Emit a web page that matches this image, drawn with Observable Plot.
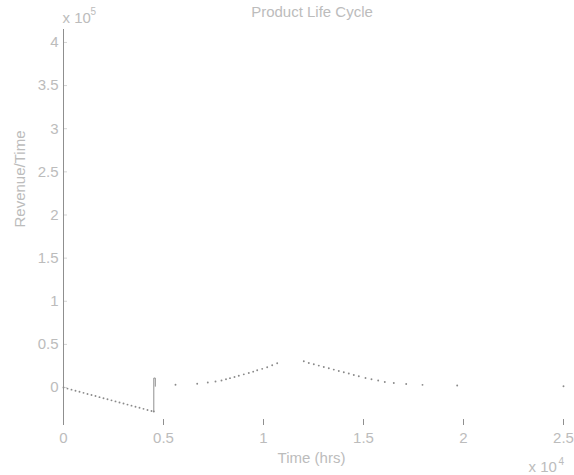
<!DOCTYPE html>
<html>
<head>
<meta charset="utf-8">
<script src="https://cdn.jsdelivr.net/npm/d3@7"></script>
<script src="https://cdn.jsdelivr.net/npm/@observablehq/plot@0.6"></script>
<style>
  html, body { margin: 0; padding: 0; background: #ffffff; }
  #chart svg { display: block; }
</style>
</head>
<body>
<div id="chart"></div>
<script>
// Introduction phase: revenue rate falls while the product is developed
const declineTime = [0, 200, 400, 600, 800, 1000, 1200, 1400, 1600, 1800, 2000, 2200,
  2400, 2600, 2800, 3000, 3200, 3400, 3600, 3800, 4000, 4200, 4400, 4515];
const declineRevenue = [0, -1240, -2470, -3710, -4940, -6180, -7410, -8650, -9880, -11120,
  -12360, -13590, -14830, -16060, -17300, -18530, -19770, -21000, -22240, -23480, -24710,
  -25950, -27180, -27800];

// Launch jump
const jumpTime = [4515, 4515, 4590, 4590];
const jumpRevenue = [-27800, 11000, 11000, 1500];

// Growth phase
const growthTime = [5600, 6685, 7215, 7600, 7900, 8125, 8325, 8550, 8765, 9015, 9265,
  9485, 9685, 9935, 10185, 10435, 10685];
const growthRevenue = [3240, 4400, 5790, 6940, 8100, 9600, 10880, 12260, 13650, 15270,
  16780, 18400, 20000, 21640, 23490, 25900, 28200];

// Maturity and decline phase
const maturityTime = [12015, 12265, 12515, 12765, 13015, 13265, 13515, 13765, 14015, 14265,
  14515, 14765, 15100, 15400, 15735, 16065, 16515, 17135, 17950, 19685, 25000];
const maturityRevenue = [30400, 28500, 27000, 25450, 23830, 22330, 20820, 19200, 17700,
  16200, 14580, 13070, 11100, 9600, 8100, 6480, 5320, 4170, 3120, 2310, 1500];

// Axes
const xTicks = [0, 5000, 10000, 15000, 20000, 25000];
const yTicks = [0, 50000, 100000, 150000, 200000, 250000, 300000, 350000, 400000];
const xDomain = [0, 25000];
const yDomain = [-44000, 415000];

const titleText = "Product Life Cycle";
const xLabel = "Time (hrs)";
const yLabel = "Revenue/Time";

const toPoints = (ts, vs) => ts.map((t, i) => ({t, v: vs[i]}));
const dots = [
  ...toPoints(declineTime, declineRevenue),
  ...toPoints(growthTime, growthRevenue),
  ...toPoints(maturityTime, maturityRevenue)
];
const jump = toPoints(jumpTime, jumpRevenue);

const textColor = "#bcbcbc";
const axisColor = "#8f8f8f";
const font = "'Liberation Sans', Arial, sans-serif";
const label = {fill: textColor, fontSize: 15, lineAnchor: "middle"};
const sup = {fill: textColor, fontSize: 10, lineAnchor: "middle", textAnchor: "start"};

const chart = Plot.plot({
  width: 574,
  height: 475,
  marginLeft: 63,
  marginRight: 11,
  marginTop: 29,
  marginBottom: 50,
  style: {background: "#ffffff", fontFamily: font, fontSize: "15px", color: textColor},
  x: {domain: xDomain},
  y: {domain: yDomain},
  marks: [
    // tick labels
    Plot.axisX({ticks: xTicks, tickFormat: d => String(d / 1e4), tickSize: 0, tickPadding: 7,
      fill: textColor, label: null, fontSize: 15}),
    Plot.axisY({ticks: yTicks, tickFormat: d => String(d / 1e5), tickSize: 0, tickPadding: 5,
      fill: textColor, label: null, fontSize: 15}),
    // inward tick marks
    Plot.ruleX(xTicks, {y1: yDomain[0], y2: yDomain[0] + 6900, stroke: axisColor, strokeWidth: 1}),
    Plot.ruleY(yTicks, {x1: 0, x2: 200, stroke: "#d4d4d4", strokeWidth: 1}),
    // left axis line
    Plot.ruleX([0], {stroke: axisColor, strokeWidth: 1}),
    // launch jump
    Plot.line(jump, {x: "t", y: "v", stroke: axisColor, strokeWidth: 1}),
    // sampled revenue rate
    Plot.dot(dots, {x: "t", y: "v", r: 0.95, fill: "#8a8a8a", stroke: null}),
    // title, axis labels and exponents
    Plot.text([titleText], {...label, frameAnchor: "top", dx: -1.5, dy: -17}),
    Plot.text([xLabel], {...label, frameAnchor: "bottom", dx: -2, dy: 33}),
    Plot.text([yLabel], {...label, frameAnchor: "left", dx: -43, rotate: -90}),
    Plot.text(["x 10"], {...label, frameAnchor: "top-left", textAnchor: "start", dx: -1, dy: -11}),
    Plot.text(["5"], {...sup, frameAnchor: "top-left", dx: 27, dy: -17.5}),
    Plot.text(["x 10"], {...label, frameAnchor: "bottom-right", textAnchor: "start", dx: -35, dy: 42}),
    Plot.text(["4"], {...sup, frameAnchor: "bottom-right", dx: -5, dy: 36})
  ]
});

document.getElementById("chart").appendChild(chart);
</script>
</body>
</html>
